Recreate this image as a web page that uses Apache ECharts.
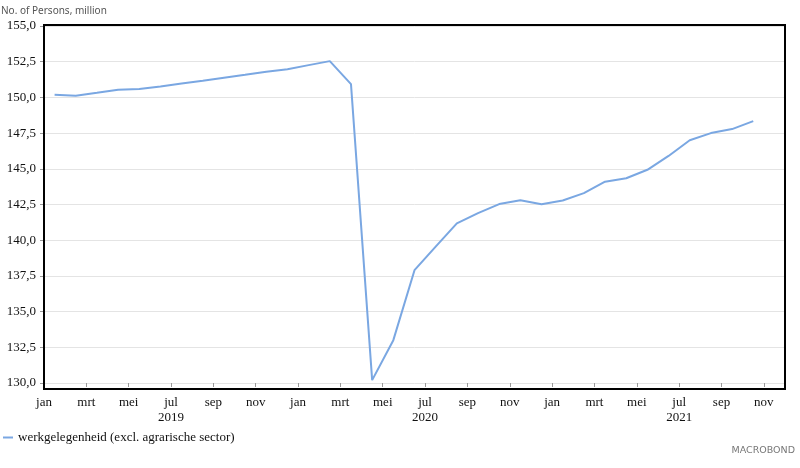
<!DOCTYPE html>
<html>
<head>
<meta charset="utf-8">
<script src="https://cdn.jsdelivr.net/npm/echarts@6/dist/echarts.min.js"></script>
<style>html,body{margin:0;padding:0;background:#fff}#c{width:800px;height:468px}</style>
</head>
<body>
<div id="c"></div>
<script>
// Months Jan 2019 .. Oct 2021 (monthly, plotted mid-month)
const startYear = 2019;
const monthNames = ['jan','feb','mrt','apr','mei','jun','jul','aug','sep','okt','nov','dec'];
const seriesName = 'werkgelegenheid (excl. agrarische sector)';
const values = [
  150.19, 150.12, 150.32, 150.53, 150.58, 150.76, 150.97, 151.16, 151.37, 151.58, 151.80, 151.97,
  152.26, 152.54, 150.93, 130.20, 133.00, 137.90, 139.55, 141.18, 141.90, 142.53, 142.79, 142.52,
  142.78, 143.30, 144.10, 144.34, 144.93, 145.90, 147.00, 147.50, 147.78, 148.34
];
const yTicks = [130, 132.5, 135, 137.5, 140, 142.5, 145, 147.5, 150, 152.5, 155];

const data = values.map((v, i) => [i + 0.5, v]);
const chart = echarts.init(document.getElementById('c'), null, {renderer: 'canvas'});
const serif = '"Liberation Serif", "Times New Roman", serif';
chart.setOption({
  animation: false,
  backgroundColor: '#fff',
  grid: {left: 44, right: 15, top: 26, bottom: 85, containLabel: false},
  title: {
    text: 'No. of Persons, million', left: 1, top: 6, padding: 0,
    textStyle: {fontFamily: 'Noto Sans, sans-serif', fontSize: 10, fontWeight: 'normal', color: '#555'}
  },
  legend: {
    left: 3, top: 431, padding: 0, itemWidth: 10, itemHeight: 2, itemGap: 4,
    icon: 'rect',
    textStyle: {fontFamily: serif, fontSize: 13, color: '#111'},
    data: [seriesName]
  },
  xAxis: {
    type: 'value', min: 0, max: 35, interval: 2,
    axisLine: {show: false},
    axisTick: {show: true, length: 4, lineStyle: {color: '#999'}},
    splitLine: {show: false},
    axisLabel: {
      fontFamily: serif, fontSize: 13, color: '#111', margin: 12, lineHeight: 15,
      showMaxLabel: false,
      formatter: function (v) {
        if (v % 2 !== 0) return '';
        const m = v % 12;
        const y = startYear + Math.floor(v / 12);
        return m === 6 ? monthNames[m] + '\n' + y : monthNames[m];
      }
    }
  },
  yAxis: {
    type: 'value', min: yTicks[0], max: yTicks[yTicks.length - 1], interval: 2.5,
    axisLine: {show: false},
    axisTick: {show: true, length: 4, lineStyle: {color: '#999'}},
    splitLine: {show: true, lineStyle: {color: '#e4e4e4', width: 1}},
    axisLabel: {
      fontFamily: serif, fontSize: 13, color: '#111', margin: 8,
      formatter: v => v.toFixed(1).replace('.', ',')
    }
  },
  series: [{
    name: seriesName, type: 'line', data: data, showSymbol: false,
    lineStyle: {color: '#7aa7e2', width: 2}, itemStyle: {color: '#7aa7e2'}
  }],
  graphic: [
    {type: 'rect', shape: {x: 44, y: 25, width: 741, height: 364}, z: 100,
     style: {fill: 'none', stroke: '#000', lineWidth: 2}},
    {type: 'text', right: 5, top: 446, z: 100,
     style: {text: 'MACROBOND', fill: '#777', font: '9.5px "DejaVu Sans", sans-serif'}}
  ]
});
</script>
</body>
</html>
